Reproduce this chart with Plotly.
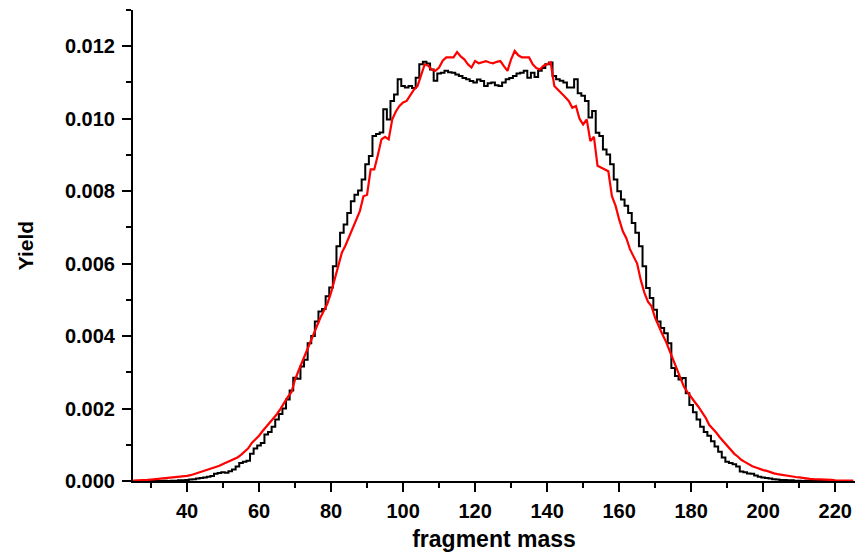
import plotly.graph_objects as go

mass = list(range(25, 226))

yield_black = [
    0, 0, 0, 0, 0, 0, 0, 0, 0, 0.00001,                       # 25-34
    0, 0.00001, 0.00001, 0.00002, 0.00002, 0.00003, 0.00004, 0.00005, 0.00007, 0.00008,  # 35-44
    0.00010, 0.00012, 0.00014, 0.00020, 0.00022, 0.00024, 0.00023, 0.00027, 0.00032, 0.00040,  # 45-54
    0.00050, 0.00053, 0.00056, 0.00075, 0.00090, 0.00098, 0.00105, 0.00128, 0.00135, 0.00150,  # 55-64
    0.00170, 0.00185, 0.00200, 0.00225, 0.00250, 0.00285, 0.00282, 0.00316, 0.00335, 0.00380,  # 65-74
    0.00400, 0.00440, 0.00468, 0.00475, 0.00510, 0.00534, 0.00593, 0.00648, 0.00685, 0.00708,  # 75-84
    0.00740, 0.00772, 0.00790, 0.00802, 0.00832, 0.00874, 0.00897, 0.00952, 0.00958, 0.00962,  # 85-94
    0.01026, 0.00998, 0.01049, 0.01067, 0.01109, 0.01090, 0.01086, 0.01090, 0.01085, 0.01113,  # 95-104
    0.01150, 0.01157, 0.01152, 0.01136, 0.01105, 0.01125, 0.01127, 0.01132, 0.01128, 0.01127,  # 105-114
    0.01122, 0.01118, 0.01112, 0.01109, 0.01104, 0.01100, 0.01108, 0.01104, 0.01090, 0.01098,  # 115-124
    0.01100, 0.01092, 0.01090, 0.01100, 0.01109, 0.01112, 0.01118, 0.01125, 0.01127, 0.01132,  # 125-134
    0.01113, 0.01127, 0.01115, 0.01132, 0.01140, 0.01150, 0.01155, 0.01118, 0.01109, 0.01105,  # 135-144
    0.01100, 0.01086, 0.01086, 0.01109, 0.01070, 0.01063, 0.01049, 0.01003, 0.01021, 0.00961,  # 145-154
    0.00952, 0.00915, 0.00901, 0.00874, 0.00832, 0.00800, 0.00777, 0.00760, 0.00740, 0.00712,  # 155-164
    0.00685, 0.00648, 0.00593, 0.00533, 0.00505, 0.00473, 0.00440, 0.00422, 0.00408, 0.00380,  # 165-174
    0.00312, 0.00290, 0.00280, 0.00284, 0.00242, 0.00210, 0.00190, 0.00170, 0.00150, 0.00135,  # 175-184
    0.00125, 0.00110, 0.00095, 0.00081, 0.00065, 0.00053, 0.00050, 0.00046, 0.00040, 0.00026,  # 185-194
    0.00024, 0.00021, 0.00020, 0.00015, 0.00012, 0.00010, 0.00008, 0.00007, 0.00005, 0.00004,  # 195-204
    0.00003, 0.00003, 0.00002, 0.00002, 0.00001, 0.00001, 0, 0.00001, 0, 0,                    # 205-214
    0, 0, 0, 0, 0, 0, 0, 0, 0, 0,                                                              # 215-224
    0,                                                                                         # 225
]

yield_red = [
    0.00001, 0.00001, 0.00002, 0.00002, 0.00003, 0.00004, 0.00005, 0.00005, 0.00006, 0.00007,  # 25-34
    0.00008, 0.00009, 0.00010, 0.00011, 0.00013, 0.00014, 0.00016, 0.00019, 0.00022, 0.00025,  # 35-44
    0.00028, 0.00032, 0.00035, 0.00038, 0.00042, 0.00047, 0.00051, 0.00055, 0.00060, 0.00065,  # 45-54
    0.00072, 0.00080, 0.00090, 0.00105, 0.00115, 0.00125, 0.00138, 0.00150, 0.00160, 0.00172,  # 55-64
    0.00185, 0.00200, 0.00218, 0.00232, 0.00245, 0.00280, 0.00305, 0.00330, 0.00355, 0.00375,  # 65-74
    0.00400, 0.00425, 0.00450, 0.00470, 0.00490, 0.00520, 0.00555, 0.00595, 0.00630, 0.00650,  # 75-84
    0.00675, 0.00700, 0.00720, 0.00745, 0.00786, 0.00790, 0.00860, 0.00860, 0.00900, 0.00943,  # 85-94
    0.00950, 0.00943, 0.00998, 0.01020, 0.01035, 0.01045, 0.01049, 0.01065, 0.01080, 0.01090,  # 95-104
    0.01120, 0.01150, 0.01146, 0.01135, 0.01132, 0.01141, 0.01160, 0.01169, 0.01169, 0.01169,  # 105-114
    0.01184, 0.01172, 0.01164, 0.01150, 0.01141, 0.01159, 0.01153, 0.01155, 0.01159, 0.01155,  # 115-124
    0.01153, 0.01157, 0.01159, 0.01145, 0.01132, 0.01164, 0.01187, 0.01175, 0.01169, 0.01169,  # 125-134
    0.01169, 0.01150, 0.01140, 0.01136, 0.01146, 0.01150, 0.01155, 0.01090, 0.01080, 0.01072,  # 135-144
    0.01060, 0.01049, 0.01030, 0.01035, 0.01000, 0.00984, 0.00998, 0.00938, 0.00950, 0.00870,  # 145-154
    0.00865, 0.00860, 0.00855, 0.00786, 0.00760, 0.00722, 0.00690, 0.00670, 0.00640, 0.00620,  # 155-164
    0.00600, 0.00555, 0.00520, 0.00495, 0.00482, 0.00450, 0.00425, 0.00405, 0.00385, 0.00360,  # 165-174
    0.00335, 0.00315, 0.00290, 0.00260, 0.00245, 0.00230, 0.00218, 0.00205, 0.00190, 0.00175,  # 175-184
    0.00155, 0.00145, 0.00133, 0.00120, 0.00108, 0.00097, 0.00085, 0.00075, 0.00067, 0.00058,  # 185-194
    0.00052, 0.00046, 0.00041, 0.00037, 0.00033, 0.00030, 0.00028, 0.00024, 0.00021, 0.00019,  # 195-204
    0.00017, 0.00015, 0.00014, 0.00012, 0.00011, 0.00010, 0.00008, 0.00007, 0.00006, 0.00005,  # 205-214
    0.00005, 0.00004, 0.00004, 0.00003, 0.00003, 0.00002, 0.00002, 0.00002, 0.00001, 0.00001,  # 215-224
    0.00001,                                                                                   # 225
]

x_title = "fragment mass"
y_title = "Yield"

fig = go.Figure()
fig.add_trace(go.Scatter(x=mass, y=yield_black, mode="lines",
                         line=dict(color="black", width=2, shape="hvh"),
                         showlegend=False))
fig.add_trace(go.Scatter(x=mass, y=yield_red, mode="lines",
                         line=dict(color="#ff0000", width=2.2),
                         showlegend=False))

font_family = "Liberation Sans, Arial, sans-serif"
fig.update_layout(
    width=862, height=552,
    margin=dict(l=133, r=7, t=10, b=71),
    paper_bgcolor="white", plot_bgcolor="white",
    font=dict(family=font_family, color="black"),
    xaxis=dict(
        range=[25, 225.5], tick0=0, dtick=20,
        automargin=False,
        showline=True, linecolor="black", linewidth=2,
        ticks="outside", ticklen=9, tickwidth=2, tickcolor="black",
        minor=dict(dtick=10, tick0=0, ticks="outside", ticklen=5, tickwidth=2, tickcolor="black"),
        showgrid=False, zeroline=False,
        tickfont=dict(size=20, weight="bold"),
        ticklabelstandoff=2,
        title=dict(text=x_title, font=dict(size=23, weight="bold"), standoff=10),
    ),
    yaxis=dict(
        range=[0, 0.013], tick0=0, dtick=0.002, tickformat=".3f",
        automargin=False,
        showline=True, linecolor="black", linewidth=2,
        ticks="outside", ticklen=9, tickwidth=2, tickcolor="black",
        minor=dict(dtick=0.001, tick0=0, ticks="outside", ticklen=5, tickwidth=2, tickcolor="black"),
        showgrid=False, zeroline=False,
        tickfont=dict(size=20, weight="bold"),
        ticklabelstandoff=3,
        title=dict(text=y_title, font=dict(size=21, weight="bold"), standoff=26),
    ),
)

fig.write_html("out.html")
